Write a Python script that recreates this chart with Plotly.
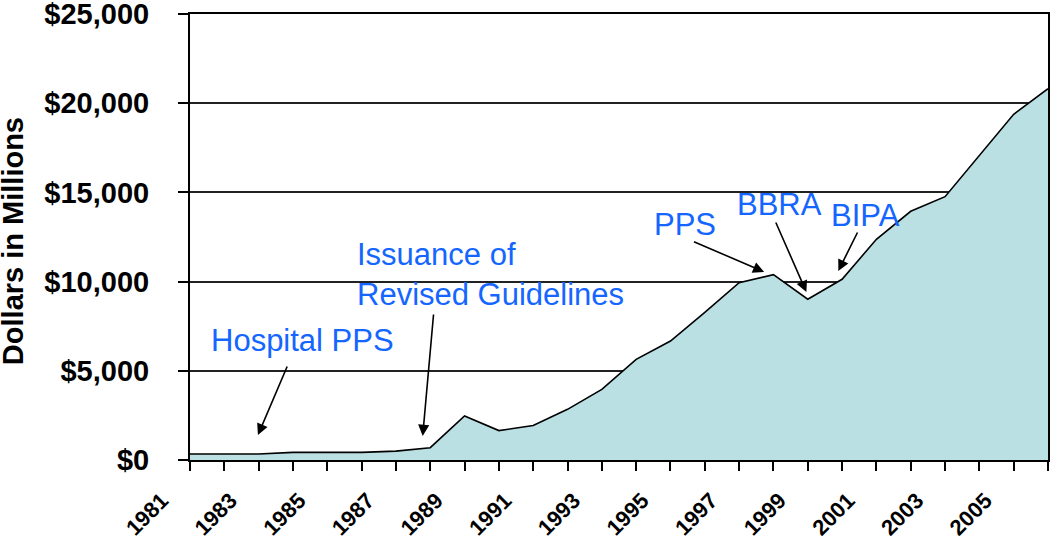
import plotly.graph_objects as go

years = list(range(1981, 2007))
spending = [340, 340, 340, 430, 430, 430, 500, 690, 2470, 1650, 1930, 2840, 3960,
            5640, 6670, 8270, 9940, 10390, 9010, 10130, 12370, 13940, 14760,
            17090, 19380, 20810]

label_texts = ["Hospital PPS", "Issuance of<br>Revised Guidelines", "PPS", "BBRA", "BIPA"]
label_x = [1981.55, 1985.80, 1995.41, 1998.17, 2000.67]
label_y = [6726, 10398, 13173, 14350, 13733]
label_anchor = ["left", "left", "center", "center", "center"]

arrow_tail_x = [1983.85, 1988.10, 1995.64, 1998.05, 2000.47]
arrow_tail_y = [5325, 8240, 12276, 13397, 12836]
arrow_head_x = [1982.98, 1987.78, 1997.73, 1998.96, 1999.89]
arrow_head_y = [1401, 1345, 10538, 9417, 10594]

FONT = "Arial, 'Liberation Sans', sans-serif"
BLUE = "#1466FF"

fig = go.Figure()
fig.add_trace(go.Scatter(
    x=years, y=spending, mode="lines", fill="tozeroy",
    fillcolor="#BAE0E3", line=dict(color="black", width=1.6),
    hoverinfo="x+y", showlegend=False,
))

for t, x, y, a in zip(label_texts, label_x, label_y, label_anchor):
    fig.add_annotation(x=x, y=y, xref="x", yref="y", text=t, showarrow=False,
                       xanchor=a, yanchor="middle", align="left",
                       font=dict(family=FONT, size=31, color=BLUE))

for tx, ty, hx, hy in zip(arrow_tail_x, arrow_tail_y, arrow_head_x, arrow_head_y):
    fig.add_annotation(x=hx, y=hy, ax=tx, ay=ty, xref="x", yref="y",
                       axref="x", ayref="y", text="", showarrow=True,
                       arrowhead=2, arrowsize=1.4, arrowwidth=1.6,
                       arrowcolor="black", standoff=0, startstandoff=0)

fig.add_annotation(x=-0.2055, y=0.49, xref="paper", yref="paper",
                   text="<b>Dollars in Millions</b>", textangle=-90,
                   showarrow=False, xanchor="center", yanchor="middle",
                   font=dict(family=FONT, size=29, color="black"))

fig.update_layout(
    width=1050, height=540,
    margin=dict(l=190, r=2, t=14, b=80),
    paper_bgcolor="white", plot_bgcolor="white",
    font=dict(family=FONT, color="black"),
    xaxis=dict(
        range=[1981, 2006], tick0=1981, dtick=2, tickmode="linear",
        automargin=False, ticklabeloverflow="allow",
        ticks="outside", ticklen=9, tickwidth=1.5, tickcolor="black",
        tickangle=-45, ticklabelshift=-28, ticklabelstandoff=8,
        tickfont=dict(family=FONT, size=22, color="black", weight="bold"),
        showgrid=False, zeroline=False,
        showline=True, linecolor="black", linewidth=2, mirror=True,
        minor=dict(dtick=1, tick0=1981, ticks="outside", ticklen=9,
                   tickwidth=1.5, tickcolor="black", showgrid=False),
    ),
    yaxis=dict(
        range=[0, 25000], tick0=0, dtick=5000, tickmode="linear",
        automargin=False, ticklabeloverflow="allow",
        tickprefix="$", tickformat=",",
        ticks="outside", ticklen=10, tickwidth=1.5, tickcolor="black",
        ticklabelstandoff=23,
        tickfont=dict(family=FONT, size=29, color="black", weight="bold"),
        showgrid=True, gridcolor="#222222", gridwidth=1.5,
        zeroline=False,
        showline=True, linecolor="black", linewidth=2, mirror=True,
    ),
)

fig.write_html("out.html", config={"displayModeBar": False},
               post_script="document.body.style.margin='0';document.body.style.overflow='hidden';")
